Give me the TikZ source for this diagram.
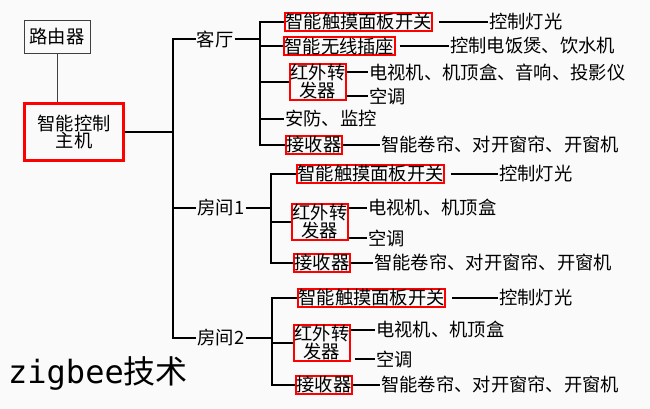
\documentclass[tikz,border=0pt]{standalone}
\usepackage{fontspec}
\setmainfont{Noto Sans CJK SC}
\newfontfamily\monof{DejaVu Sans Mono}
\begin{document}
\begin{tikzpicture}[x=1pt,y=-1pt,
 txt/.style={inner sep=1pt,font=\fontsize{18.3}{18}\selectfont},
 rb/.style={txt,draw=red,line width=1.8pt,inner sep=0.5pt},
 two/.style={align=center,font=\fontsize{18.3}{16.5}\selectfont},
 lf/.style={txt,anchor=west},
 ln/.style={line width=1.5pt},
 thin/.style={line width=0.9pt,draw=black!75}]
\fill[black!2] (0,0) rectangle (650,409);
\useasboundingbox (0,0) rectangle (650,409);
\node[txt,draw=black!75,line width=0.9pt,minimum width=66,minimum height=33] (rt) at (57,37) {路由器};
\node[rb,line width=2.2pt,minimum width=99,minimum height=57,two] (host) at (74,132) {智能控制\\主机};
\draw[thin] (rt.south) -- (host.north-|rt.south);
\coordinate (t1) at (173,39); \coordinate (t2) at (173,208); \coordinate (t3) at (173,338);
\draw[ln] (host.east) -- (173,132);
\node[txt] (kt) at (215,39) {客厅};
\node[txt] (r1) at (221,208) {房间1};
\node[txt] (r2) at (221,338) {房间2};
\draw[ln] (kt.west) -- (t1) -- (t3) -- (r2.west);
\draw[ln] (t2) -- (r1.west);
% living room
\node[rb,anchor=west] (a1) at (284,22) {智能触摸面板开关};
\node[rb,anchor=west] (a2) at (283,46) {智能无线插座};
\node[rb,anchor=west,two,minimum height=35] (a3) at (289,82) {红外转\\发器};
\node[lf] (a4) at (284,119) {安防、监控};
\node[rb,anchor=west] (a5) at (285,145) {接收器};
\draw[ln] (kt.east) -- (260,39);
\draw[ln] (a1.west) -| (260,145) -- (a5.west);
\draw[ln] (260,46) -- (a2.west);
\draw[ln] (260,82) -- (a3.west);
\draw[ln] (260,119) -- (a4.west);
\node[lf] (b1) at (488,22) {控制灯光};
\node[lf] (b2) at (449,46) {控制电饭煲、饮水机};
\node[lf] (b3) at (368,72) {电视机、机顶盒、音响、投影仪};
\node[lf] (b4) at (368,96) {空调};
\node[lf] (b5) at (380,145) {智能卷帘、对开窗帘、开窗机};
\draw[ln] (a1.east) ++(6,0) -- (b1.west);
\draw[ln] (a2.east) ++(4,0) -- (b2.west);
\draw[ln] (a3.east|-b3.west) -- (b3.west);
\draw[ln] (a3.east|-b4.west) -- (b4.west);
\draw[ln] (a5.east) -- (b5.west);
% room 1
\node[rb,anchor=west] (c1) at (296,174) {智能触摸面板开关};
\node[rb,anchor=west,two,minimum height=34] (c2) at (291,222) {红外转\\发器};
\node[rb,anchor=west] (c3) at (293,263) {接收器};
\draw[ln] (r1.east) -- (271,208);
\draw[ln] (c1.west) -| (271,263) -- (c3.west);
\draw[ln] (271,222) -- (c2.west);
\node[lf] (d1) at (498,174) {控制灯光};
\node[lf] (d2) at (367,208) {电视机、机顶盒};
\node[lf] (d3) at (367,238) {空调};
\node[lf] (d4) at (373,263) {智能卷帘、对开窗帘、开窗机};
\draw[ln] (c1.east) ++(6,0) -- (d1.west);
\draw[ln] (c2.east|-d2.west) -- (d2.west);
\draw[ln] (c2.east|-d3.west) -- (d3.west);
\draw[ln] (c3.east) -- (d4.west);
% room 2
\node[rb,anchor=west] (e1) at (297,298) {智能触摸面板开关};
\node[rb,anchor=west,two,minimum height=34] (e2) at (293,343) {红外转\\发器};
\node[rb,anchor=west] (e3) at (295,385) {接收器};
\draw[ln] (r2.east) -- (272,338);
\draw[ln] (e1.west) -| (272,385) -- (e3.west);
\draw[ln] (272,343) -- (e2.west);
\node[lf] (f1) at (498,298) {控制灯光};
\node[lf] (f2) at (375,330) {电视机、机顶盒};
\node[lf] (f3) at (375,359) {空调};
\node[lf] (f4) at (380,385) {智能卷帘、对开窗帘、开窗机};
\draw[ln] (e1.east) ++(6,0) -- (f1.west);
\draw[ln] (e2.east|-f2.west) -- (f2.west);
\draw[ln] (e2.east) ++(4,16) -- (f3.west);
\draw[ln] (e3.east) -- (f4.west);
\node[anchor=west,inner sep=0,font=\fontsize{32}{32}\selectfont] (zb) at (8,373) {{\monof zigbee}技术};
\end{tikzpicture}
\end{document}
